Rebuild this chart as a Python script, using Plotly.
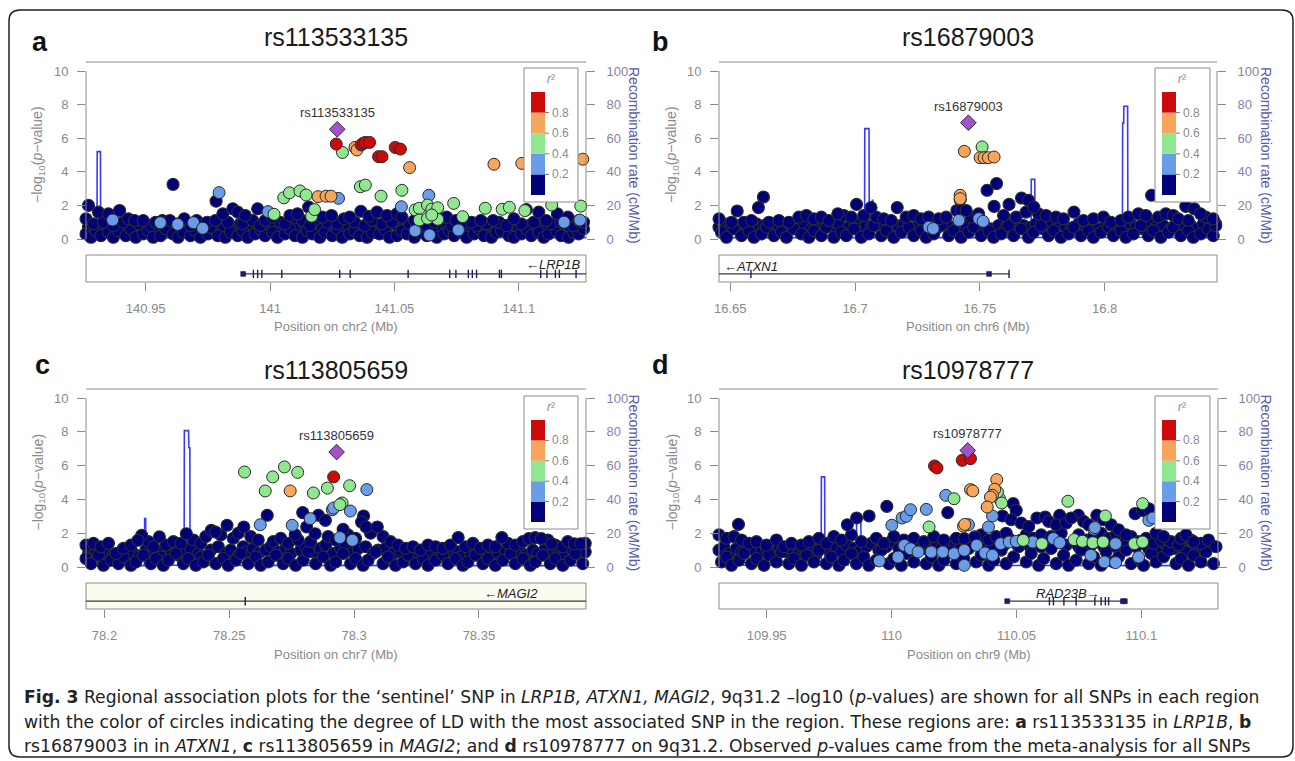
import plotly.graph_objects as go

W, H = 1295, 761

# ======================= DATA =======================
# ---------- panel a : rs113533135 / LRP1B (chr2) ----------
A_TITLE = "rs113533135"
A_CHR = "chr2"
A_XRANGE = [140.926, 141.127]
A_XTICKS = [140.95, 141.0, 141.05, 141.1]
A_XTICK_TEXT = ["140.95", "141", "141.05", "141.1"]
A_BG_START = 140.926  # background SNPs (r2 < 0.2): (kb from start, -log10 p)
A_BG = [(0,0.3),(2,0.1),(4,0.5),(6,0.2),(9,0.4),(11,0.1),(13,0.5),(16,0.2),(18,0.6),(20,0.1),(23,0.3),(25,0.5),
        (27,0.1),(30,0.2),(32,0.6),(35,0.3),(37,0.1),(39,0.4),(42,0.2),(44,0.5),(46,0.1),(49,0.3),(51,0.6),(53,0.2),
        (56,0.1),(58,0.4),(61,0.2),(63,0.5),(65,0.1),(68,0.3),(70,0.6),(72,0.2),(75,0.4),(77,0.1),(80,0.3),(82,0.6),
        (84,0.2),(87,0.1),(89,0.5),(91,0.3),(94,0.1),(96,0.4),(99,0.2),(101,0.6),(103,0.1),(106,0.3),(108,0.5),(110,0.2),
        (113,0.1),(115,0.4),(118,0.3),(120,0.6),(122,0.1),(125,0.2),(127,0.5),(129,0.3),(132,0.1),(134,0.4),(137,0.2),
        (139,0.6),(141,0.1),(144,0.3),(146,0.5),(148,0.2),(151,0.4),(153,0.1),(156,0.3),(158,0.6),(160,0.2),(163,0.1),
        (165,0.4),(167,0.5),(170,0.2),(172,0.1),(175,0.3),(177,0.6),(179,0.2),(182,0.4),(184,0.1),(186,0.3),(189,0.5),
        (191,0.2),(194,0.1),(196,0.4),(198,0.3),(200,0.6),
        (0,1.2),(3,0.9),(7,1.0),(11,0.8),(15,1.0),(21,0.9),(26,0.8),(28,1.0),(37,0.9),(42,0.8),(46,0.9),(50,0.7),
        (57,1.0),(63,0.9),(67,1.1),(70,0.8),(78,1.0),(80,0.9),(87,1.1),(90,0.8),(97,1.0),(101,0.9),(108,1.0),(112,0.8),
        (115,1.1),(119,0.9),(123,1.0),(130,0.9),(134,1.0),(137,0.8),(140,1.0),(147,0.8),(151,0.9),(153,1.0),(157,0.8),
        (161,0.9),(166,1.0),(169,0.8),(175,0.9),(180,1.0),(187,0.9),(191,1.0),(196,0.8),(200,1.0),
        (1,2.0),(5,1.6),(9,1.5),(13.5,1.7),(17,1.2),(19.5,1.1),(23,1.1),(30.7,1.1),(33.7,1.1),(35,3.25),(39.5,1.2),
        (44.5,1.1),(48.7,1.0),(52,1.1),(52.3,2.25),(55,1.5),(59,1.8),(61,1.6),(64,1.4),(69,1.8),(72,1.1),(75,1.3),
        (82,1.4),(85,1.5),(89.5,1.9),(92,1.4),(95,1.3),(98.7,1.4),(103.7,1.2),(106,1.3),(110.5,1.65),(113.7,1.35),
        (117,1.6),(121,1.4),(125,1.5),(127,1.3),(132,1.1),(142,1.2),(145,1.3),(148.7,1.1),(155,1.0),(158.7,1.1),
        (163.7,1.1),(172,1.2),(177,1.75),(182,1.6),(185,1.1),(189.5,1.5),(193.7,1.3),(198,1.1)]
A_BG_MID = [(1,0.7),(5,0.8),(8,0.6),(12,0.9),(14,0.7),(17,0.8),(19,0.6),(22,0.7),(24,0.9),(29,0.6),(31,0.8),(34,0.7),
            (38,0.6),(40,0.9),(43,0.7),(47,0.6),(48,0.8),(52,0.7),(54,0.9),(55,0.6),(60,0.7),(62,0.9),(66,0.6),(69,0.8),
            (73,0.9),(74,0.6),(76,0.8),(79,0.7),(83,0.9),(85,0.6),(88,0.8),(92,0.7),(93,0.9),(95,0.6),(98,0.8),(100,0.7),
            (104,0.9),(105,0.6),(109,0.8),(111,0.7),(114,0.6),(117,0.8),(121,0.7),(124,0.9),(126,0.6),(128,0.8),(131,0.7),
            (133,0.6),(136,0.9),(138,0.7),(142,0.8),(143,0.6),(145,0.9),(149,0.7),(150,0.6),(154,0.8),(155,0.7),(159,0.9),
            (162,0.7),(164,0.6),(168,0.8),(171,0.7),(173,0.9),(174,0.6),(178,0.8),(181,0.7),(183,0.9),(185,0.6),(188,0.8),
            (190,0.7),(193,0.9),(195,0.6),(197,0.7),(199,0.9)]
A_SNPS = [  # (position Mb, -log10 p, r2)
    (140.9367,1.13,0.3),(140.9559,0.97,0.3),(140.9629,0.87,0.3),(140.9692,0.97,0.3),(140.9729,0.64,0.3),
    (140.9795,2.76,0.3),(140.9992,1.63,0.3),(141.0275,2.42,0.3),(141.0528,1.92,0.3),(141.0583,0.49,0.3),
    (141.0638,2.6,0.3),(141.0641,0.24,0.3),(141.0757,0.54,0.3),(141.1182,1.0,0.3),(141.1245,1.13,0.3),
    (141.0016,1.47,0.5),(141.0055,2.45,0.5),(141.0078,2.75,0.5),(141.0120,2.86,0.5),(141.0145,2.62,0.5),
    (141.0167,1.36,0.5),(141.0179,1.75,0.5),(141.0291,5.15,0.5),(141.0363,3.11,0.5),(141.0383,3.21,0.5),
    (141.0446,2.55,0.5),(141.0530,2.9,0.5),(141.0583,1.73,0.5),(141.0600,1.83,0.5),(141.0633,2.02,0.5),
    (141.0650,1.77,0.5),(141.0674,1.86,0.5),(141.0738,2.12,0.5),(141.0600,1.13,0.5),(141.0633,1.23,0.5),
    (141.0674,1.17,0.5),(141.0650,1.43,0.5),(141.0774,1.33,0.5),(141.0865,1.83,0.5),(141.0933,1.77,0.5),
    (141.0962,1.89,0.5),(141.1024,1.69,0.5),(141.1132,2.02,0.5),(141.1249,1.96,0.5),
    (141.0193,2.52,0.7),(141.0225,2.55,0.7),(141.0245,2.55,0.7),(141.0341,5.45,0.7),(141.0349,5.3,0.7),
    (141.0561,4.25,0.7),(141.0900,4.45,0.7),(141.1012,4.5,0.7),(141.1257,4.75,0.7),
    (141.0266,5.65,0.9),(141.0366,5.6,0.9),(141.0375,5.7,0.9),(141.0383,5.75,0.9),(141.0400,5.75,0.9),
    (141.0436,4.9,0.9),(141.0450,4.9,0.9),(141.0503,5.45,0.9),(141.0524,5.35,0.9)]
A_LEAD = (141.027, 6.53)
A_REC_POS = [140.926, 140.9304, 140.9305, 140.9318, 140.9319, 140.96, 141.0, 141.05, 141.1, 141.127]
A_REC_RATE = [1.0, 1.0, 52.0, 52.0, 1.0, 0.6, 0.8, 0.5, 0.9, 0.7]
A_GENE = "LRP1B"
A_GENE_STRAND = -1
A_GENE_SPAN = (140.9888, 141.40)
A_EXONS = [140.9933, 140.995, 140.9967, 141.0047, 141.028, 141.0322, 141.0555, 141.0722, 141.0747, 141.0797,
           141.0813, 141.083, 141.0922, 141.093, 141.1088, 141.1113, 141.1147, 141.1163, 141.123]
A_EXON_BLOCKS = [140.9892]

# ---------- panel b : rs16879003 / ATXN1 (chr6) ----------
B_TITLE = "rs16879003"
B_CHR = "chr6"
B_XRANGE = [16.6455, 16.845]
B_XTICKS = [16.65, 16.7, 16.75, 16.8]
B_XTICK_TEXT = ["16.65", "16.7", "16.75", "16.8"]
B_BG_START = 16.6455
B_BG = [(1,0.4),(3,0.1),(6,0.6),(9,0.2),(12,0.5),(14,0.1),(17,0.3),(19,0.7),(22,0.2),(25,0.4),(27,0.1),(30,0.6),
        (33,0.3),(36,0.1),(38,0.5),(41,0.2),(43,0.7),(46,0.1),(49,0.4),(51,0.2),(54,0.6),(57,0.1),(60,0.3),(62,0.8),
        (65,0.2),(67,0.5),(70,0.1),(73,0.4),(76,0.7),(78,0.2),(81,0.5),(83,0.1),(86,0.3),(89,0.8),(92,0.2),(94,0.5),
        (97,0.1),(100,0.4),(102,0.7),(105,0.2),(108,0.5),(110,0.1),(113,0.3),(116,0.8),(118,0.2),(121,0.6),(124,0.1),
        (126,0.4),(129,0.8),(132,0.2),(134,0.5),(137,0.1),(140,0.3),(142,0.7),(145,0.2),(148,0.5),(150,0.1),(153,0.4),
        (156,0.7),(158,0.2),(161,0.5),(163,0.1),(166,0.3),(169,0.8),(172,0.2),(174,0.5),(177,0.1),(180,0.4),(182,0.7),
        (185,0.2),(188,0.5),(190,0.1),(193,0.3),(196,0.6),(198,0.2),(199,0.8),
        (0,1.2),(5,1.0),(10,1.0),(13,1.1),(20,1.0),(24,1.1),(28,1.0),(32,1.3),(35,1.4),(38,1.2),(41,1.3),(44,1.1),
        (50,1.4),(53,1.3),(58,1.4),(63,1.3),(66,1.2),(69,1.1),(75,1.3),(78,1.4),(81,1.2),(84,1.3),(88,1.2),(91,1.3),
        (101,1.3),(104,1.5),(114,1.4),(119,1.3),(123,1.6),(128,1.5),(131,1.4),(135,1.3),(138,1.2),(146,1.1),(150,1.2),
        (154,1.3),(157,1.0),(161,1.1),(164,1.3),(168,1.5),(171,1.4),(176,1.3),(179,1.5),(182,1.4),(184,1.2),(188,1.1),
        (195,1.3),(198,1.2),
        (7.3,1.67),(15.8,1.87),(17.8,2.5),(47.6,1.5),(55.1,2.06),(60.9,1.87),(71.4,1.87),(95.3,1.7),(107.4,2.9),
        (111.2,3.3),(110.2,1.94),(116.2,2.06),(121.2,2.44),(124,2.3),(126.1,1.9),(142.2,1.6),(173.3,2.6),(187,1.94),
        (190.4,1.8),(192.9,1.5),(96.6,2.34),(97,1.7),(99,1.7)]
B_BG_MID = [(0,0.7),(2,0.9),(4,0.6),(8,0.8),(11,0.7),(15,0.9),(16,0.6),(18,0.8),(21,0.7),(23,0.9),(26,0.6),(29,0.8),
            (31,0.7),(34,0.9),(37,0.6),(39,0.8),(42,0.9),(45,0.7),(47,0.6),(48,0.9),(52,0.7),(55,0.9),(56,0.6),(59,0.8),
            (61,0.7),(64,0.9),(68,0.6),(71,0.8),(72,0.7),(74,0.9),(77,0.6),(80,0.8),(82,0.9),(85,0.7),(87,0.6),(90,0.9),
            (93,0.7),(96,0.9),(98,0.6),(99,0.8),(103,0.7),(106,0.9),(109,0.6),(112,0.8),(115,0.7),(117,0.9),(120,0.6),
            (122,0.8),(125,0.7),(127,0.9),(130,0.6),(133,0.8),(136,0.9),(139,0.7),(141,0.6),(144,0.9),(147,0.7),(149,0.8),
            (152,0.6),(155,0.9),(157,0.7),(160,0.8),(162,0.6),(165,0.9),(167,0.7),(170,0.6),(173,0.9),(175,0.7),(178,0.8),
            (181,0.6),(183,0.9),(186,0.7),(189,0.8),(191,0.6),(194,0.9),(197,0.7),(199,0.9)]
B_SNPS = [
    (16.7296,0.71,0.3),(16.7313,0.62,0.3),(16.7416,1.11,0.3),(16.7496,1.21,0.3),(16.7513,1.05,0.3),
    (16.7509,5.48,0.5),
    (16.7438,5.22,0.7),(16.7501,4.84,0.7),(16.7517,4.84,0.7),(16.7534,4.84,0.7),(16.7557,4.88,0.7),
    (16.7421,2.6,0.7),(16.7421,2.4,0.7)]
B_LEAD = (16.7454, 6.92)
B_REC_POS = [16.6455, 16.7038, 16.7039, 16.7056, 16.7057, 16.7068, 16.7069, 16.7071, 16.7072, 16.7705, 16.7706,
             16.7720, 16.7721, 16.8071, 16.8072, 16.8076, 16.8077, 16.8092, 16.8093, 16.845]
B_REC_RATE = [0.8, 0.8, 65.7, 65.7, 1.0, 1.0, 23.0, 23.0, 0.8, 0.8, 35.5, 35.5, 0.9, 0.9, 69.0, 69.0, 79.0,
              79.0, 1.0, 0.8]
B_GENE = "ATXN1"
B_GENE_STRAND = -1
B_GENE_SPAN = (16.55, 16.7617)
B_EXONS = [16.6583, 16.7617]
B_EXON_BLOCKS = [16.7537]

# ---------- panel c : rs113805659 / MAGI2 (chr7) ----------
C_TITLE = "rs113805659"
C_CHR = "chr7"
C_XRANGE = [78.1926, 78.3929]
C_XTICKS = [78.2, 78.25, 78.3, 78.35]
C_XTICK_TEXT = ["78.2", "78.25", "78.3", "78.35"]
C_BG_START = 78.1926
C_BG = [(0,0.5),(2,0.2),(5,0.7),(7,0.1),(10,0.4),(13,0.2),(15,0.6),(18,0.1),(20,0.3),(23,0.7),(26,0.2),(28,0.5),
        (31,0.1),(33,0.4),(36,0.8),(39,0.2),(41,0.5),(44,0.1),(47,0.3),(49,0.7),(52,0.2),(55,0.5),(57,0.1),(60,0.4),
        (62,0.8),(65,0.2),(68,0.6),(70,0.1),(73,0.3),(76,0.7),(79,0.2),(81,0.5),(84,0.1),(87,0.4),(89,0.9),(92,0.2),
        (95,0.6),(98,0.1),(100,0.3),(103,0.8),(106,0.2),(108,0.5),(111,0.1),(113,0.4),(116,0.9),(119,0.2),(121,0.6),
        (124,0.1),(127,0.3),(129,0.7),(132,0.2),(135,0.5),(137,0.1),(140,0.4),(143,0.7),(145,0.2),(148,0.5),(151,0.1),
        (153,0.3),(156,0.7),(159,0.2),(161,0.5),(164,0.1),(167,0.4),(170,0.8),(172,0.2),(175,0.5),(178,0.1),(180,0.3),
        (183,0.7),(186,0.2),(188,0.5),(191,0.1),(194,0.4),(196,0.8),(199,0.2),
        (0,1.3),(3,1.4),(6,1.2),(9,1.4),(12,0.8),(15,1.1),(18,1.3),(25,1.5),(27,1.2),(32,1.3),(35,1.5),(38,1.4),
        (43,1.6),(46,1.4),(48,1.8),(54,1.9),(59,1.7),(61,2.0),(66,1.8),(69,1.6),(75,1.5),(78,1.7),(81,1.4),(85,1.6),
        (90,1.5),(97,1.8),(100,1.6),(105,1.9),(108,1.7),(114,2.0),(119,1.8),(122,1.5),(125,1.3),(128,1.1),(131,1.2),
        (134,1.0),(137,1.3),(140,1.2),(143,1.1),(146,1.3),(152,1.2),(155,1.4),(158,1.1),(161,1.3),(164,1.2),(169,1.4),
        (172,1.3),(175,1.5),(185,1.6),(188,1.3),(191,1.2),(193,1.5),(200,1.4),
        (72.6,3.06),(86.8,3.22),(93.1,3.06),(95.9,2.76),(88.4,2.37),(83.8,1.91),(91.8,1.97),(103,2.23),(111.2,3.02),
        (110.4,2.66),(112.2,2.37),(116.7,2.37),(56.5,2.47),(63.2,2.37),(50.2,2.17),(51.9,2.07),(40.2,1.97),(29.4,1.78),
        (22.3,1.87),(20.8,1.58),(149.1,1.74),(166.6,1.74),(177.4,1.68),(179.9,1.74),(182.4,1.68),(186.5,1.38),
        (195.6,1.38),(198.1,1.38)]
C_BG_MID = [(1,0.8),(4,0.9),(6,0.6),(8,0.8),(11,0.7),(14,0.9),(16,0.7),(19,0.8),(21,0.6),(24,1.0),(27,0.8),(29,0.9),
            (30,0.6),(34,1.0),(37,0.7),(40,0.9),(42,1.1),(45,0.8),(46,0.6),(50,1.0),(53,1.2),(56,0.8),(58,1.0),(61,0.7),
            (63,1.2),(64,0.9),(67,1.1),(69,0.8),(72,1.0),(74,1.2),(77,0.9),(80,1.1),(82,0.8),(86,1.0),(88,1.2),(91,0.9),
            (94,1.1),(96,1.3),(99,0.8),(102,1.1),(104,1.3),(107,0.9),(109,1.1),(112,1.2),(115,0.8),(117,1.0),(120,1.1),
            (123,0.8),(126,0.9),(130,0.7),(133,0.8),(136,0.9),(138,0.7),(141,0.8),(144,0.9),(147,0.7),(149,0.9),(150,0.6),
            (154,0.8),(157,0.9),(160,0.7),(162,0.9),(165,0.8),(168,1.0),(171,0.8),(174,0.9),(176,0.7),(179,1.0),(181,0.8),
            (184,1.1),(187,0.8),(189,0.9),(192,0.7),(195,1.0),(197,0.8),(200,0.9)]
C_SNPS = [
    (78.3051,4.58,0.3),(78.2624,2.5,0.3),(78.2752,2.47,0.3),(78.2824,2.86,0.3),(78.2913,3.39,0.3),
    (78.2918,3.49,0.3),(78.2985,3.31,0.3),(78.2943,1.74,0.3),(78.2993,1.58,0.3),
    (78.2561,5.62,0.5),(78.2674,5.33,0.5),(78.2721,5.92,0.5),(78.2774,5.6,0.5),(78.2644,4.5,0.5),
    (78.2837,4.38,0.5),(78.2893,4.67,0.5),(78.2982,4.81,0.5),(78.2952,3.79,0.5),(78.2943,3.69,0.5),
    (78.2744,4.5,0.7),
    (78.2918,5.33,0.9)]
C_LEAD = (78.293, 6.8)
C_REC_POS = [78.1926, 78.2160, 78.2161, 78.2165, 78.2166, 78.2319, 78.2320, 78.2337, 78.2338, 78.2342, 78.2343, 78.3929]
C_REC_RATE = [0.8, 0.8, 28.6, 28.6, 1.0, 1.0, 80.7, 80.7, 70.6, 70.6, 1.0, 0.8]
C_GENE = "MAGI2"
C_GENE_STRAND = -1
C_GENE_SPAN = (78.0, 78.6)
C_EXONS = [78.2564]
C_EXON_BLOCKS = []

# ---------- panel d : rs10978777 / RAD23B (chr9) ----------
D_TITLE = "rs10978777"
D_CHR = "chr9"
D_XRANGE = [109.9309, 110.1307]
D_XTICKS = [109.95, 110.0, 110.05, 110.1]
D_XTICK_TEXT = ["109.95", "110", "110.05", "110.1"]
D_BG_START = 109.9309
D_BG = [(1,0.3),(3,0.6),(5,0.1),(8,0.4),(10,0.8),(13,0.2),(15,0.5),(18,0.1),(20,0.7),(23,0.3),(25,0.9),(28,0.2),
        (30,0.5),(33,0.1),(35,0.7),(38,0.3),(40,1.0),(43,0.2),(45,0.6),(48,0.1),(50,0.4),(53,0.8),(55,0.2),(58,0.6),
        (60,0.1),(63,0.4),(65,1.0),(68,0.2),(70,0.5),(73,0.1),(75,0.8),(78,0.3),(80,1.1),(83,0.2),(85,0.6),(88,0.1),
        (90,0.4),(93,0.9),(95,0.2),(98,0.5),(100,1.1),(103,0.3),(105,0.7),(108,0.1),(110,0.4),(113,1.0),(115,0.2),
        (118,0.6),(120,1.2),(123,0.3),(125,0.8),(128,0.1),(130,0.5),(133,1.1),(135,0.2),(138,0.7),(140,0.1),(143,0.4),
        (145,1.0),(148,0.2),(150,0.6),(153,0.1),(155,0.9),(158,0.3),(160,0.6),(163,1.0),(165,0.2),(168,0.5),(170,0.1),
        (173,0.8),(175,0.3),(178,0.6),(180,1.0),(183,0.2),(185,0.5),(188,0.1),(190,0.7),(193,0.3),(195,0.9),(198,0.2),
        (200,0.5),
        (0,1.9),(3,1.7),(6,1.8),(9,1.6),(12,1.4),(15,1.5),(19,1.3),(23,1.6),(26,1.2),(29,1.4),(33,1.3),(36,1.5),
        (40,1.7),(43,1.4),(46,1.8),(49,1.6),(53,1.9),(57,1.5),(63,1.7),(66,1.4),(70,1.8),(74,1.6),(78,1.7),(82,1.5),
        (86,1.8),(90,1.6),(95,1.7),(105,1.9),(108,1.6),(111,1.8),(115,2.0),(123,1.9),(126,1.7),(129,1.9),(133,1.8),
        (137,2.0),(144,1.9),(150,1.8),(153,2.0),(156,1.7),(159,1.9),(162,1.6),(165,1.8),(168,1.5),(171,1.7),(174,1.4),
        (177,1.6),(181,1.5),(184,1.3),(189,1.6),(193,1.4),(196,1.6),(199,1.2),
        (7.8,2.52),(67.2,3.59),(91.6,3.22),(51.4,2.5),(55.1,2.9),(60.1,3.02),(117.8,3.75),(113.5,3.02),(119,3.35),
        (136.4,3.06),(127.3,2.9),(130.6,2.96),(143.9,3.06),(151.3,3.06),(166.6,3.16),(169.6,3.35),(172.1,3.45),
        (98.2,1.68),(102.4,1.78),(117,2.8),(121,2.6),(124,2.4),(132,2.7),(135,2.5),(139,2.6),(141,2.9),(146,2.7),
        (148,2.5),(154,2.8),(157,2.5),(160,2.2),(163,1.9),(175,2.0),(178,1.8),(185,1.7),(187,1.9),(190,1.5)]
D_BG_MID = [(0,1.0),(2,1.2),(4,0.8),(7,1.1),(9,0.9),(11,1.2),(14,1.0),(17,0.9),(19,1.1),(21,0.8),(24,1.2),(27,0.9),
            (29,1.1),(32,0.8),(34,1.0),(37,1.2),(39,0.8),(41,1.3),(44,1.0),(47,1.2),(49,0.9),(51,1.3),(54,1.1),(56,0.9),
            (59,1.2),(61,1.4),(64,1.0),(67,1.2),(69,1.5),(72,1.1),(74,1.3),(77,1.0),(79,1.4),(81,1.2),(84,1.0),(87,1.4),
            (89,1.1),(92,1.3),(94,1.5),(97,1.2),(99,1.4),(101,1.6),(104,1.3),(107,1.5),(109,1.2),(112,1.6),(114,1.3),
            (116,1.7),(119,1.4),(121,1.6),(124,1.3),(127,1.5),(129,1.2),(131,1.6),(134,1.4),(136,1.6),(139,1.3),(142,1.5),
            (144,1.2),(147,1.6),(149,1.3),(151,1.5),(154,1.2),(157,1.4),(159,1.2),(161,1.4),(164,1.3),(167,1.2),(169,1.4),
            (172,1.1),(174,1.3),(176,1.0),(179,1.3),(182,1.1),(185,1.2),(187,0.9),(191,1.2),(194,1.0),(197,1.3),(200,1.0)]
D_SNPS = [
    (109.9951,0.36,0.3),(110.0026,0.59,0.3),(110.0051,1.28,0.3),(110.0076,1.08,0.3),(110.0106,0.89,0.3),
    (110.0159,0.89,0.3),(110.0205,0.89,0.3),(110.0250,0.79,0.3),(110.0291,0.99,0.3),(110.0291,0.1,0.3),
    (110.0341,1.28,0.3),(110.0374,0.83,0.3),(110.0404,0.69,0.3),(110.0437,1.38,0.3),(110.0471,1.48,0.3),
    (110.0499,1.52,0.3),(110.0565,1.48,0.3),(110.0648,1.68,0.3),(110.0673,1.44,0.3),(110.0798,0.69,0.3),
    (110.0852,0.3,0.3),(110.0897,0.26,0.3),(110.0897,1.38,0.3),(110.0989,0.59,0.3),(110.0811,2.23,0.3),
    (110.0217,4.24,0.3),(110.0001,2.47,0.3),(110.0042,2.9,0.3),(110.0059,3.0,0.3),(110.0076,3.39,0.3),
    (110.0139,3.41,0.3),(110.0388,2.37,0.3),(110.0404,3.02,0.3),(110.0308,2.5,0.3),(110.0814,2.33,0.3),
    (110.1030,2.76,0.3),(110.1046,2.9,0.3),
    (110.0250,4.04,0.5),(110.0432,4.04,0.5),(110.0441,3.79,0.5),(110.0150,2.37,0.5),(110.0424,4.44,0.5),
    (110.0706,3.89,0.5),(110.1005,3.75,0.5),(110.0856,3.02,0.5),(110.0527,1.58,0.5),(110.0602,1.38,0.5),
    (110.0731,1.62,0.5),(110.0764,1.52,0.5),(110.0806,1.44,0.5),(110.0847,1.48,0.5),(110.0972,1.38,0.5),
    (110.1005,1.48,0.5),
    (110.0316,4.58,0.7),(110.0325,4.5,0.7),(110.0421,5.17,0.7),(110.0413,4.6,0.7),(110.0404,4.24,0.7),
    (110.0396,4.14,0.7),(110.0383,3.55,0.7),(110.0288,2.41,0.7),(110.0293,2.52,0.7),
    (110.0172,5.98,0.9),(110.0182,5.86,0.9),(110.0283,6.31,0.9),(110.0316,6.41,0.9)]
D_LEAD = (110.0305, 6.9)
D_REC_POS = [109.9309, 109.9718, 109.9719, 109.9732, 109.9733, 109.9826, 109.9827, 109.9843, 109.9844,
             109.9859, 109.9860, 109.9877, 109.9878, 110.1307]
D_REC_RATE = [1.0, 1.0, 53.3, 53.3, 1.2, 1.2, 19.1, 19.1, 1.0, 1.0, 26.6, 26.6, 1.0, 0.8]
D_GENE = "RAD23B"
D_GENE_STRAND = 1
D_GENE_SPAN = (110.0461, 110.094)
D_EXONS = [110.0632, 110.0648, 110.069, 110.0739, 110.0814, 110.0839, 110.0856, 110.0869]
D_EXON_BLOCKS = [110.0463, 110.0926, 110.0934]

# legend / axes
R2_BREAKS = [0.2, 0.4, 0.6, 0.8]
LOGP_TICKS = [0, 2, 4, 6, 8, 10]
REC_TICKS = [0, 20, 40, 60, 80, 100]

CAPTION = [
    "<b>Fig. 3</b> Regional association plots for the \u2018sentinel\u2019 SNP in <i>LRP1B, ATXN1, MAGI2</i>, 9q31.2 \u2013log10 (<i>p</i>-values) are shown for all SNPs in each region",
    "with the color of circles indicating the degree of LD with the most associated SNP in the region. These regions are: <b>a</b> rs113533135 in <i>LRP1B</i>, <b>b</b>",
    "rs16879003 in in <i>ATXN1</i>, <b>c</b> rs113805659 in <i>MAGI2</i>; and <b>d</b> rs10978777 on 9q31.2. Observed <i>p</i>-values came from the meta-analysis for all SNPs",
]

# ======================= STYLE =======================
R2_COLORS = ["#00007a", "#6a9de8", "#8fe890", "#f6a55a", "#cc0a0a"]
LEAD_COLOR = "#a452cc"
REC_COLOR = "#3b3bf2"
GRAY = "#8a8a8a"
FONT = "Liberation Sans, Arial, sans-serif"
TICKFONT = dict(family=FONT, size=13, color="#8a8a8a")
RTICKFONT = dict(family=FONT, size=13, color="#8585a5")

GEOM = [
    dict(left=86, right=586, y10=71, y0=239, gtop=255, gbot=282, leg=(524, 578, 68, 202),
         title=(336, 37), letter=(40, 42), ylab=38, rlab=634, xlab=326, glabel=(583, 265, "right"), gfill="white"),
    dict(left=719, right=1217, y10=71, y0=239, gtop=255, gbot=282, leg=(1155, 1210, 68, 202),
         title=(968, 37), letter=(660, 42), ylab=672, rlab=1266, xlab=326, glabel=(722, 266, "left"), gfill="white"),
    dict(left=86, right=586, y10=398, y0=567, gtop=583, gbot=609, leg=(524, 578, 396, 529),
         title=(336, 370), letter=(42, 365), ylab=38, rlab=634, xlab=654, glabel=(540, 593, "right"), gfill="#fbfbef"),
    dict(left=719, right=1218, y10=398, y0=567, gtop=583, gbot=609, leg=(1155, 1210, 396, 529),
         title=(968, 370), letter=(660, 365), ylab=672, rlab=1266, xlab=654, glabel=(1068, 593, "center"), gfill="white"),
]

PANELS = [
    dict(letter="a", title=A_TITLE, chr=A_CHR, xrange=A_XRANGE, xticks=A_XTICKS, xtext=A_XTICK_TEXT,
         bg_start=A_BG_START, bg=A_BG_MID + A_BG, snps=A_SNPS, lead=A_LEAD, rec=(A_REC_POS, A_REC_RATE),
         gene=A_GENE, strand=A_GENE_STRAND, span=A_GENE_SPAN, exons=A_EXONS, blocks=A_EXON_BLOCKS),
    dict(letter="b", title=B_TITLE, chr=B_CHR, xrange=B_XRANGE, xticks=B_XTICKS, xtext=B_XTICK_TEXT,
         bg_start=B_BG_START, bg=B_BG_MID + B_BG, snps=B_SNPS, lead=B_LEAD, rec=(B_REC_POS, B_REC_RATE),
         gene=B_GENE, strand=B_GENE_STRAND, span=B_GENE_SPAN, exons=B_EXONS, blocks=B_EXON_BLOCKS),
    dict(letter="c", title=C_TITLE, chr=C_CHR, xrange=C_XRANGE, xticks=C_XTICKS, xtext=C_XTICK_TEXT,
         bg_start=C_BG_START, bg=C_BG_MID + C_BG, snps=C_SNPS, lead=C_LEAD, rec=(C_REC_POS, C_REC_RATE),
         gene=C_GENE, strand=C_GENE_STRAND, span=C_GENE_SPAN, exons=C_EXONS, blocks=C_EXON_BLOCKS),
    dict(letter="d", title=D_TITLE, chr=D_CHR, xrange=D_XRANGE, xticks=D_XTICKS, xtext=D_XTICK_TEXT,
         bg_start=D_BG_START, bg=D_BG_MID + D_BG, snps=D_SNPS, lead=D_LEAD, rec=(D_REC_POS, D_REC_RATE),
         gene=D_GENE, strand=D_GENE_STRAND, span=D_GENE_SPAN, exons=D_EXONS, blocks=D_EXON_BLOCKS),
]


def fx(px):
    return px / W


def fy(py):
    return 1 - py / H


def r2_bin(r2):
    k = 0
    for b in R2_BREAKS:
        if r2 >= b:
            k += 1
    return k


def axname(kind, n):
    return kind if n == 1 else f"{kind}{n}"


def laykey(kind, n):
    return f"{kind}axis" if n == 1 else f"{kind}axis{n}"


def paper_text(px, py, text, size, color, family=FONT, xanchor="center", textangle=0):
    return dict(x=fx(px), y=fy(py), xref="paper", yref="paper", text=text, showarrow=False,
                xanchor=xanchor, yanchor="middle", textangle=textangle,
                font=dict(family=family, size=size, color=color))


fig = go.Figure()
layout = {}
shapes = []
annotations = []

for i, (P, g) in enumerate(zip(PANELS, GEOM)):
    n1, n2 = 2 * i + 1, 2 * i + 2
    r, l, gy = 3 * i + 1, 3 * i + 2, 3 * i + 3
    xm, xg = axname("x", n1), axname("x", n2)
    yr, yl, yg = axname("y", r), axname("y", l), axname("y", gy)

    upx = (g["y0"] - g["y10"]) / 10.0
    pad = 9
    ylo, yhi = -pad / upx, 10 + pad / upx
    xdom = [fx(g["left"]), fx(g["right"])]
    ydom = [fy(g["y0"] + pad), fy(g["y10"] - pad)]

    common = dict(showgrid=False, zeroline=False, showline=False, automargin=False, fixedrange=True)
    layout[laykey("x", n1)] = dict(domain=xdom, range=P["xrange"], anchor=yr, showticklabels=False, ticks="", **common)
    layout[laykey("y", r)] = dict(domain=ydom, range=[ylo * 10, yhi * 10], anchor=xm, side="right",
                                  tickvals=REC_TICKS, ticks="outside", ticklen=8, tickcolor=GRAY,
                                  tickfont=RTICKFONT, ticklabelstandoff=9, **common)
    layout[laykey("y", l)] = dict(range=[ylo, yhi], anchor=xm, side="left", overlaying=yr,
                                  tickvals=LOGP_TICKS, ticks="outside", ticklen=8, tickcolor=GRAY,
                                  tickfont=TICKFONT, ticklabelstandoff=6, **common)
    layout[laykey("x", n2)] = dict(domain=xdom, range=P["xrange"], anchor=yg, tickvals=P["xticks"],
                                   ticktext=P["xtext"], ticks="outside", ticklen=8, tickcolor=GRAY,
                                   tickfont=TICKFONT, ticklabelstandoff=6, **common)
    layout[laykey("y", gy)] = dict(domain=[fy(g["gbot"]), fy(g["gtop"])], range=[0, 1], anchor=xg,
                                   visible=False, **common)

    # recombination rate (base subplot, drawn beneath the SNPs)
    fig.add_trace(go.Scatter(x=P["rec"][0], y=P["rec"][1], mode="lines", xaxis=xm, yaxis=yr,
                             line=dict(color=REC_COLOR, width=1.6), hoverinfo="skip"))

    # background SNPs
    bx = [P["bg_start"] + kb / 1000.0 for kb, _ in P["bg"]]
    by = [v for _, v in P["bg"]]
    fig.add_trace(go.Scatter(x=bx, y=by, mode="markers", xaxis=xm, yaxis=yl, cliponaxis=False,
                             marker=dict(size=12, color=R2_COLORS[0], line=dict(color="#2c2c2c", width=1.1))))
    # coloured SNPs by LD bin
    for k in range(5):
        pts = [s for s in P["snps"] if r2_bin(s[2]) == k]
        if not pts:
            continue
        fig.add_trace(go.Scatter(x=[s[0] for s in pts], y=[s[1] for s in pts], mode="markers",
                                 xaxis=xm, yaxis=yl, cliponaxis=False,
                                 marker=dict(size=12, color=R2_COLORS[k], line=dict(color="#2a2a2a", width=1))))
    # lead SNP
    fig.add_trace(go.Scatter(x=[P["lead"][0]], y=[P["lead"][1]], mode="markers", xaxis=xm, yaxis=yl,
                             cliponaxis=False,
                             marker=dict(symbol="diamond", size=12, color=LEAD_COLOR,
                                         line=dict(color="#2a2a2a", width=1))))
    annotations.append(dict(x=P["lead"][0], y=P["lead"][1], xref=xm, yref=yl, text=P["title"],
                            showarrow=False, xanchor="center", yanchor="bottom", yshift=7,
                            font=dict(family=FONT, size=13, color="#333333")))

    # gene track
    x0 = max(P["span"][0], P["xrange"][0])
    x1 = min(P["span"][1], P["xrange"][1])
    fig.add_trace(go.Scatter(x=[x0, x1], y=[0.3, 0.3], mode="lines", xaxis=xg, yaxis=yg,
                             line=dict(color="#3a3a3a", width=1.2), hoverinfo="skip"))
    fig.add_trace(go.Scatter(x=P["exons"], y=[0.3] * len(P["exons"]), mode="markers", xaxis=xg, yaxis=yg,
                             marker=dict(symbol="line-ns", size=6, line=dict(color="#1d1d60", width=1.4))))
    if P["blocks"]:
        fig.add_trace(go.Scatter(x=P["blocks"], y=[0.3] * len(P["blocks"]), mode="markers", xaxis=xg, yaxis=yg,
                                 marker=dict(symbol="square", size=5, color="#1d1d60",
                                             line=dict(color="#1d1d60", width=0.5))))
    shapes.append(dict(type="rect", xref=f"{xg} domain", yref=f"{yg} domain", x0=0, x1=1, y0=0, y1=1,
                       line=dict(color=GRAY, width=1), fillcolor=g["gfill"], layer="below"))
    gtext = ("\u2190<i>%s</i>" % P["gene"]) if P["strand"] < 0 else ("<i>%s</i>\u2192" % P["gene"])
    annotations.append(paper_text(g["glabel"][0], g["glabel"][1], gtext, 13, "#222222", xanchor=g["glabel"][2]))

    # frame lines
    shapes.append(dict(type="line", xref=f"{xm} domain", yref=f"{yr} domain", x0=0, x1=1, y0=1, y1=1,
                       line=dict(color=GRAY, width=1)))
    shapes.append(dict(type="line", xref=f"{xm} domain", yref=yl, x0=0, x1=0, y0=0, y1=10,
                       line=dict(color=GRAY, width=1)))
    shapes.append(dict(type="line", xref=f"{xm} domain", yref=yl, x0=1, x1=1, y0=0, y1=10,
                       line=dict(color=GRAY, width=1)))

    # LD legend
    lx0, lx1, ly0, ly1 = g["leg"]
    shapes.append(dict(type="rect", xref="paper", yref="paper", x0=fx(lx0), x1=fx(lx1), y0=fy(ly1), y1=fy(ly0),
                       line=dict(color=GRAY, width=1), fillcolor="white"))
    bx0, bx1 = lx0 + 7, lx0 + 21
    by_top, by_bot = ly0 + 24, ly1 - 7
    edges = [0.0] + R2_BREAKS + [1.0]
    for k in range(5):
        yb = by_bot - (by_bot - by_top) * edges[k]
        yt = by_bot - (by_bot - by_top) * edges[k + 1]
        shapes.append(dict(type="rect", xref="paper", yref="paper", x0=fx(bx0), x1=fx(bx1), y0=fy(yb), y1=fy(yt),
                           line=dict(width=0), fillcolor=R2_COLORS[k]))
    for b in R2_BREAKS:
        yy = by_bot - (by_bot - by_top) * b
        shapes.append(dict(type="line", xref="paper", yref="paper", x0=fx(bx1), x1=fx(bx1 + 4), y0=fy(yy), y1=fy(yy),
                           line=dict(color="#777777", width=1)))
        annotations.append(paper_text(bx1 + 5, yy, f"{b:.1f}", 12, "#8a8a8a", xanchor="left"))
    annotations.append(paper_text(lx0 + 27, ly0 + 11, "<i>r</i>\u00b2", 12, "#8a8a8a"))

    # titles
    annotations.append(paper_text(g["title"][0], g["title"][1], P["title"], 25, "#1a1a1a"))
    annotations.append(paper_text(g["letter"][0], g["letter"][1], "<b>%s</b>" % P["letter"], 27, "#111111"))
    ymid = (g["y10"] + g["y0"]) / 2
    annotations.append(paper_text(g["ylab"], ymid, "\u2212log<sub>10</sub>(<i>p</i>\u2212value)", 14, "#8a8a8a",
                                  textangle=-90))
    annotations.append(paper_text(g["rlab"], ymid, "Recombination rate (cM/Mb)", 14, "#5a5aae", textangle=90))
    annotations.append(paper_text((g["left"] + g["right"]) / 2, g["xlab"], "Position on %s (Mb)" % P["chr"],
                                  13, "#8a8a8a"))

# caption
for line, py in zip(CAPTION, [697, 722, 746]):
    annotations.append(paper_text(22, py, line, 17.2, "#222222", family="DejaVu Sans, sans-serif", xanchor="left"))


# rounded outer border
def P_(px, py):
    return f"{fx(px):.5f},{fy(py):.5f}"


x0b, y0b, x1b, y1b, rr = 9, 10, 1293, 757, 11
path = (f"M {P_(x0b + rr, y0b)} L {P_(x1b - rr, y0b)} Q {P_(x1b, y0b)} {P_(x1b, y0b + rr)} "
        f"L {P_(x1b, y1b - rr)} Q {P_(x1b, y1b)} {P_(x1b - rr, y1b)} L {P_(x0b + rr, y1b)} "
        f"Q {P_(x0b, y1b)} {P_(x0b, y1b - rr)} L {P_(x0b, y0b + rr)} Q {P_(x0b, y0b)} {P_(x0b + rr, y0b)} Z")
shapes.append(dict(type="path", xref="paper", yref="paper", path=path, line=dict(color="#222222", width=1.5)))

fig.update_layout(width=W, height=H, margin=dict(l=0, r=0, t=0, b=0), autosize=False,
                  paper_bgcolor="white", plot_bgcolor="rgba(0,0,0,0)", showlegend=False,
                  shapes=shapes, annotations=annotations, **layout)
fig.write_html("out.html", config={"displayModeBar": False},
               post_script="document.body.style.margin='0px';document.body.style.padding='0px';"
                           "document.body.style.overflow='hidden';")
